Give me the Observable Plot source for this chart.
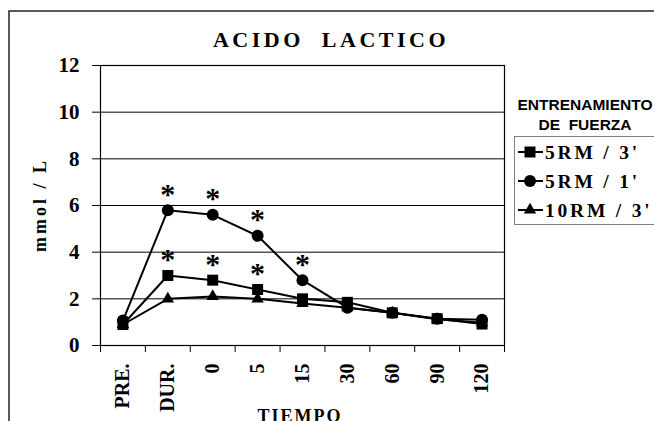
<!DOCTYPE html>
<html><head><meta charset="utf-8">
<script src="https://cdn.jsdelivr.net/npm/d3@7"></script>
<script src="https://cdn.jsdelivr.net/npm/@observablehq/plot@0.6"></script>
<style>
html,body{margin:0;padding:0;background:#fff;}
#chart{position:relative;width:654px;height:421px;overflow:hidden;background:#fff;}
svg text{white-space:pre;}
</style></head><body><div id="chart"></div>
<script>
// ---- data ----
const tiempos = ["PRE.", "DUR.", "0", "5", "15", "30", "60", "90", "120"];
const seriesNames = ["5RM / 3'", "5RM / 1'", "10RM / 3'"];
const rm5_3  = [0.9, 3.0, 2.8, 2.4, 2.0, 1.85, 1.4, 1.15, 0.92];
const rm5_1  = [1.07, 5.8, 5.6, 4.7, 2.8, 1.62, 1.4, 1.15, 1.1];
const rm10_3 = [0.9, 2.0, 2.1, 2.0, 1.8, 1.62, 1.4, 1.12, 0.98];
const sig5_3  = [false, true, true, true, false, false, false, false, false];
const sig5_1  = [false, true, true, true, true, false, false, false, false];
const yTicks = [0, 2, 4, 6, 8, 10, 12];
const title = "ACIDO  LACTICO";
const yTitle = "mmol / L";
const xTitle = "TIEMPO";
const legendTitle = ["ENTRENAMIENTO", "DE  FUERZA"];

// ---- tables ----
const values = [rm5_3, rm5_1, rm10_3];
const sigs = [sig5_3, sig5_1, null];
const symbols = ["square", "circle", "triangle"];
const rows = [];
values.forEach((arr, s) => arr.forEach((v, i) => rows.push({t: i, v, s: seriesNames[s], sig: sigs[s] ? sigs[s][i] : false})));
const stars = rows.filter(d => d.sig);
const boundaries = d3.range(tiempos.length + 1).map(i => i - 0.5);

const serif = "'Liberation Serif', 'Times New Roman', serif";
const sans = "'Liberation Sans', Arial, sans-serif";

const bySeries = name => rows.filter(d => d.s === name);

const plot = Plot.plot({
  width: 654,
  height: 421,
  marginLeft: 100,
  marginRight: 150,
  marginTop: 65,
  marginBottom: 76,
  style: {fontFamily: serif, fontWeight: "bold", background: "#fff", color: "#000", overflow: "hidden"},
  x: {domain: [boundaries[0], boundaries[boundaries.length - 1]], axis: null},
  y: {domain: [0, 12], axis: null},
  marks: [
    Plot.ruleY(yTicks, {stroke: "#000", strokeWidth: 1}),
    Plot.frame({stroke: "#000", strokeWidth: 1.2}),
    Plot.axisY({ticks: yTicks, tickSize: 8, tickPadding: 13, fontSize: 21, fontWeight: "bold", fontFamily: serif, stroke: "#000", label: null}),
    Plot.axisX({ticks: boundaries, tickSize: 7, tickFormat: () => "", stroke: "#000", label: null}),
    Plot.text(tiempos, {x: (d, i) => i, text: d => d, frameAnchor: "bottom", dy: 18, rotate: -90, textAnchor: "end", lineAnchor: "middle", fontSize: 20, fontWeight: "bold", fontFamily: serif, fill: "#000"}),
    Plot.line(rows, {x: "t", y: "v", z: "s", stroke: "#000", strokeWidth: 2}),
    Plot.dot(bySeries(seriesNames[2]), {x: "t", y: "v", symbol: "triangle", r: 4.6, fill: "#000"}),
    Plot.dot(bySeries(seriesNames[1]), {x: "t", y: "v", symbol: "circle", r: 6, fill: "#000"}),
    Plot.dot(bySeries(seriesNames[0]), {x: "t", y: "v", symbol: "square", r: 6.2, fill: "#000"}),
    Plot.text(stars, {x: "t", y: "v", text: () => "*", dy: -16, fontSize: 30, fontWeight: "bold", fontFamily: serif, fill: "#000"})
  ]
});

document.getElementById("chart").appendChild(plot);
const svg = d3.select(plot);
svg.selectAll("text").attr("font-weight", "bold");

// outer chart-area border (extends past the picture on right/bottom)
svg.append("rect").attr("x", 9).attr("y", 11).attr("width", 1000).attr("height", 1000)
  .attr("fill", "none").attr("stroke", "#000").attr("stroke-width", 1.3);

// title
svg.append("text").attr("x", 331).attr("y", 47).attr("text-anchor", "middle")
  .attr("font-family", serif).attr("font-weight", "bold").attr("font-size", 22)
  .attr("letter-spacing", 3.5).attr("fill", "#000").text(title);

// y title
svg.append("text").attr("transform", "translate(46,205) rotate(-90)").attr("text-anchor", "middle")
  .attr("font-family", serif).attr("font-weight", "bold").attr("font-size", 18)
  .attr("letter-spacing", 3).attr("fill", "#000").text(yTitle);

// x title (cut at bottom, as in the original)
svg.append("text").attr("x", 300).attr("y", 422).attr("text-anchor", "middle")
  .attr("font-family", serif).attr("font-weight", "bold").attr("font-size", 18)
  .attr("letter-spacing", 2).attr("fill", "#000").text(xTitle);

// legend
const lg = svg.append("g");
lg.append("text").attr("x", 585).attr("y", 110).attr("text-anchor", "middle")
  .attr("font-family", sans).attr("font-weight", "bold").attr("font-size", 15.5).attr("fill", "#000").text(legendTitle[0]);
lg.append("text").attr("x", 585).attr("y", 130).attr("text-anchor", "middle")
  .attr("font-family", sans).attr("font-weight", "bold").attr("font-size", 15.5).attr("fill", "#000").text(legendTitle[1]);
lg.append("rect").attr("x", 514.5).attr("y", 136.5).attr("width", 200).attr("height", 88)
  .attr("fill", "#fff").attr("stroke", "#808080").attr("stroke-width", 1);
const legendY = [152, 181, 210];
const symSizes = [Math.PI * 6.2 * 6.2, Math.PI * 36, Math.PI * 4.6 * 4.6];
const d3sym = {square: d3.symbolSquare, circle: d3.symbolCircle, triangle: d3.symbolTriangle};
seriesNames.forEach((name, k) => {
  const y = legendY[k];
  lg.append("line").attr("x1", 518).attr("x2", 543).attr("y1", y).attr("y2", y).attr("stroke", "#000").attr("stroke-width", 2);
  lg.append("path").attr("transform", `translate(530,${y})`).attr("d", d3.symbol(d3sym[symbols[k]], symSizes[k])()).attr("fill", "#000");
  lg.append("text").attr("x", 545).attr("y", y).attr("dy", "0.34em").attr("text-anchor", "start")
    .attr("font-family", serif).attr("font-weight", "bold").attr("font-size", 19.5)
    .attr("letter-spacing", 2.8).attr("fill", "#000").text(name);
});
</script>
</body></html>
